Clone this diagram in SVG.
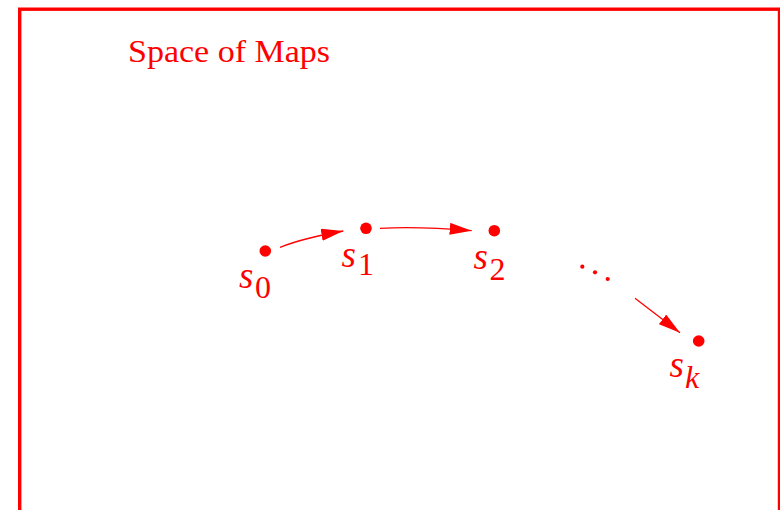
<svg xmlns="http://www.w3.org/2000/svg" width="780" height="510" viewBox="0 0 780 510">
<style>
.frame{fill:none;stroke:#ff0000;stroke-width:3.4}
.lbl{font-family:"Liberation Serif","DejaVu Serif",serif;fill:#ff0000}
.it{font-style:italic}
.s{font-style:italic;font-size:37px}
.dot{fill:#ff0000}
.edge{fill:none;stroke:#ff0000;stroke-width:1.3}
</style>
<defs>
<marker id="ah" markerUnits="userSpaceOnUse" markerWidth="23" markerHeight="13" refX="22" refY="6" orient="auto" viewBox="0 0 23 13">
<path d="M0,0 L22,6 L0,12 z" fill="#ff0000"/>
</marker>
</defs>
<rect class="frame" x="19.7" y="9.2" width="759.8" height="600"/>
<text class="lbl" x="128" y="62" font-size="32" textLength="202" lengthAdjust="spacingAndGlyphs">Space of Maps</text>
<g id="connectors">
<path class="edge" d="M280,247.3 Q304.5,237.7 343.3,231" marker-end="url(#ah)"/>
<path class="edge" d="M380,228.3 Q420,226.3 471.7,230.7" marker-end="url(#ah)"/>
<path class="edge" d="M635,298.3 L680,332.7" marker-end="url(#ah)"/>
</g>
<g id="s0">
<circle class="dot" cx="265.3" cy="251" r="5.8"/>
<text class="lbl" font-size="32"><tspan class="s" x="239" y="288">s</tspan><tspan x="255" y="298">0</tspan></text>
</g>
<g id="s1">
<circle class="dot" cx="366" cy="228.3" r="5.8"/>
<text class="lbl" font-size="32"><tspan class="s" x="341.5" y="267">s</tspan><tspan x="358" y="275">1</tspan></text>
</g>
<g id="s2">
<circle class="dot" cx="494.3" cy="230.7" r="5.8"/>
<text class="lbl" font-size="32"><tspan class="s" x="473.5" y="269">s</tspan><tspan x="489.5" y="280">2</tspan></text>
</g>
<g id="ellipsis">
<circle class="dot" cx="582.3" cy="266.7" r="2.1"/>
<circle class="dot" cx="595" cy="272.3" r="2.1"/>
<circle class="dot" cx="607.7" cy="279" r="2.1"/>
</g>
<g id="sk">
<circle class="dot" cx="698.7" cy="341" r="5.8"/>
<text class="lbl" font-size="32"><tspan class="s" x="669.5" y="377">s</tspan><tspan class="it" x="685" y="388">k</tspan></text>
</g>
</svg>
